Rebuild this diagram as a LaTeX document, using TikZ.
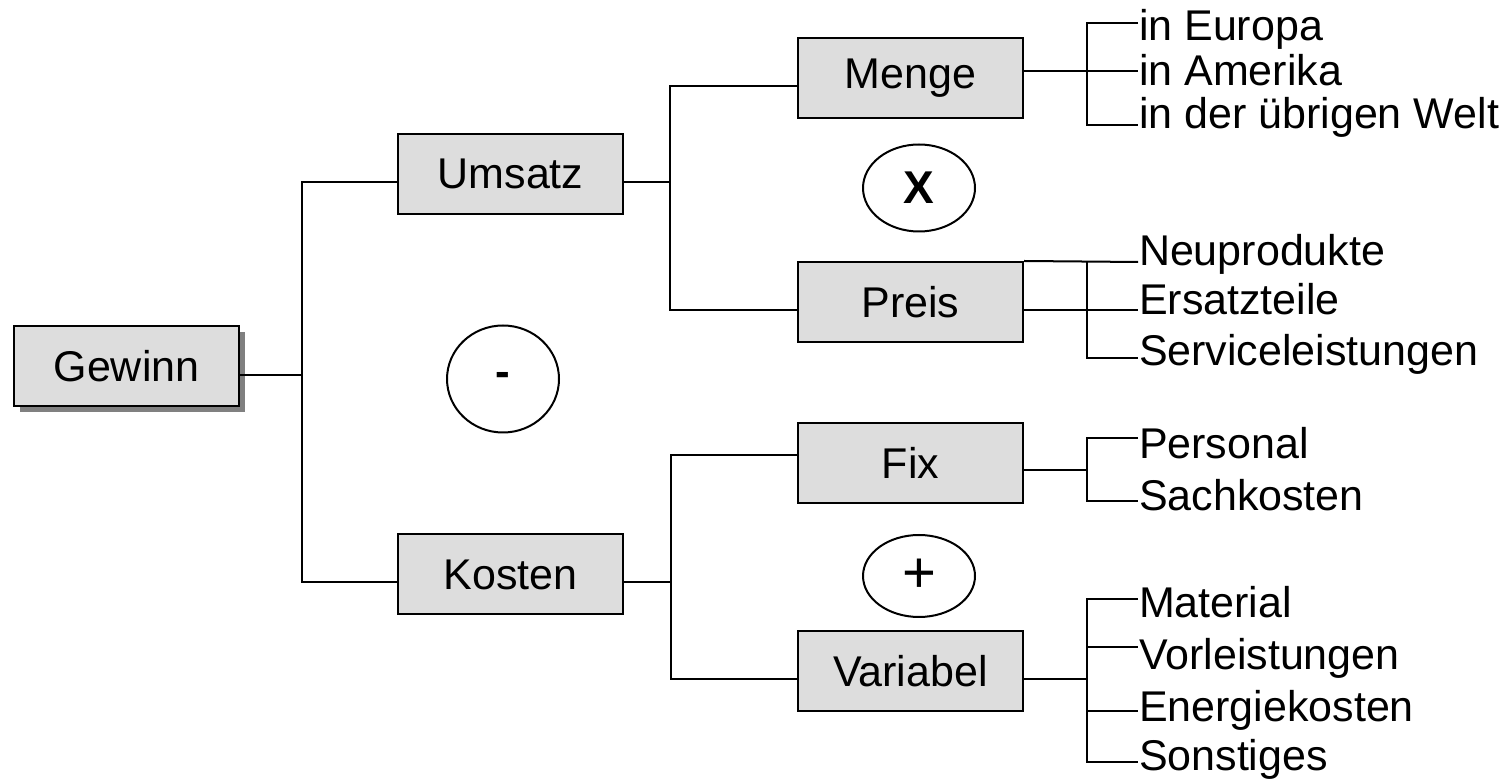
\documentclass[tikz,border=0pt]{standalone}
\usepackage{fontspec}
\setmainfont{Liberation Sans}
\usetikzlibrary{shapes.geometric,shadows}
\definecolor{boxgray}{HTML}{DDDDDD}
\definecolor{shadowgray}{HTML}{808080}

\begin{document}
\begin{tikzpicture}[x=0.5pt,y=-0.5pt,line width=1pt,
    every node/.style={font=\fontsize{21.5}{25}\selectfont},
    box/.style={draw,fill=boxgray,minimum width=112.5pt,minimum height=40pt,inner sep=0pt},
    op/.style={draw,ellipse,inner sep=0pt,minimum width=56pt},
    leaf/.style={anchor=base west,inner sep=0pt}]
  \useasboundingbox (0,0) rectangle (1504,779);

  \node[box,drop shadow={shadow xshift=3pt,shadow yshift=-3pt,fill=shadowgray,opacity=1}] (gewinn) at (126.5,366.5) {Gewinn};
  \node[box] (umsatz) at (510.5,174) {Umsatz};
  \node[box] (kosten) at (510.5,574.5) {Kosten};
  \node[box] (menge) at (910.5,78) {Menge};
  \node[box] (preis) at (910.5,302) {Preis};
  \node[box] (fix) at (910.5,463) {Fix};
  \node[box] (variabel) at (910.5,671) {Variabel};

  \node[op,minimum height=43.5pt,font=\bfseries\fontsize{23}{25}\selectfont] (mal) at (919,188) {X};
  \node[op,minimum height=53.5pt,font=\bfseries\fontsize{22}{25}\selectfont] (minus) at (503,379) {-};
  \node[op,minimum height=41pt,font=\fontsize{29}{30}\selectfont] (plus) at (919,576) {+};

  \foreach \n/\y/\t in {eur/41/in Europa,ame/86/in Amerika,welt/129/in der übrigen Welt,
      neu/266/Neuprodukte,ers/315/Ersatzteile,ser/366/Serviceleistungen,
      pers/459/Personal,sach/511/Sachkosten,
      mat/618/Material,vor/670/Vorleistungen,ene/722/Energiekosten,son/770/Sonstiges}
    \node[leaf] (\n) at (1138,\y) {\t};

  % trunk lines
  \coordinate (ta) at (302,375);
  \coordinate (ua) at (302,182);
  \coordinate (ka) at (302,582);
  \draw (gewinn.east |- ta) -- (ta);
  \draw (umsatz.west |- ua) -- (ua) -- (ka) -- (kosten.west |- ka);

  \coordinate (ub) at (670,182);
  \coordinate (mb) at (670,86);
  \coordinate (pb) at (670,310);
  \draw (umsatz.east |- ub) -- (ub);
  \draw (menge.west |- mb) -- (mb) -- (pb) -- (preis.west |- pb);

  \coordinate (kb) at (671,582);
  \coordinate (fb) at (671,455);
  \coordinate (vb) at (671,679);
  \draw (kosten.east |- kb) -- (kb);
  \draw (fix.west |- fb) -- (fb) -- (vb) -- (variabel.west |- vb);

  % brackets to the leaves
  \coordinate (m1) at (1087,23);
  \coordinate (m2) at (1087,71);
  \coordinate (m3) at (1087,125);
  \draw (menge.east |- m2) -- (ame.west |- m2);
  \draw (eur.west |- m1) -- (m1) -- (m3) -- (welt.west |- m3);

  \coordinate (p1) at (1087,262);
  \coordinate (p2) at (1087,310);
  \coordinate (p3) at (1087,358);
  \draw (preis.north east) -- (neu.west |- p1);
  \draw (preis.east |- p2) -- (ers.west |- p2);
  \draw (p1) -- (p3) -- (ser.west |- p3);

  \coordinate (f1) at (1087,438);
  \coordinate (f2) at (1087,470);
  \coordinate (f3) at (1087,501);
  \draw (fix.east |- f2) -- (f2);
  \draw (pers.west |- f1) -- (f1) -- (f3) -- (sach.west |- f3);

  \coordinate (v1) at (1087,599);
  \coordinate (v2) at (1087,647);
  \coordinate (v3) at (1087,711);
  \coordinate (v4) at (1087,762);
  \coordinate (vx) at (1087,679);
  \draw (variabel.east |- vx) -- (vx);
  \draw (mat.west |- v1) -- (v1) -- (v4) -- (son.west |- v4);
  \draw (v2) -- (vor.west |- v2);
  \draw (v3) -- (ene.west |- v3);
\end{tikzpicture}
\end{document}
